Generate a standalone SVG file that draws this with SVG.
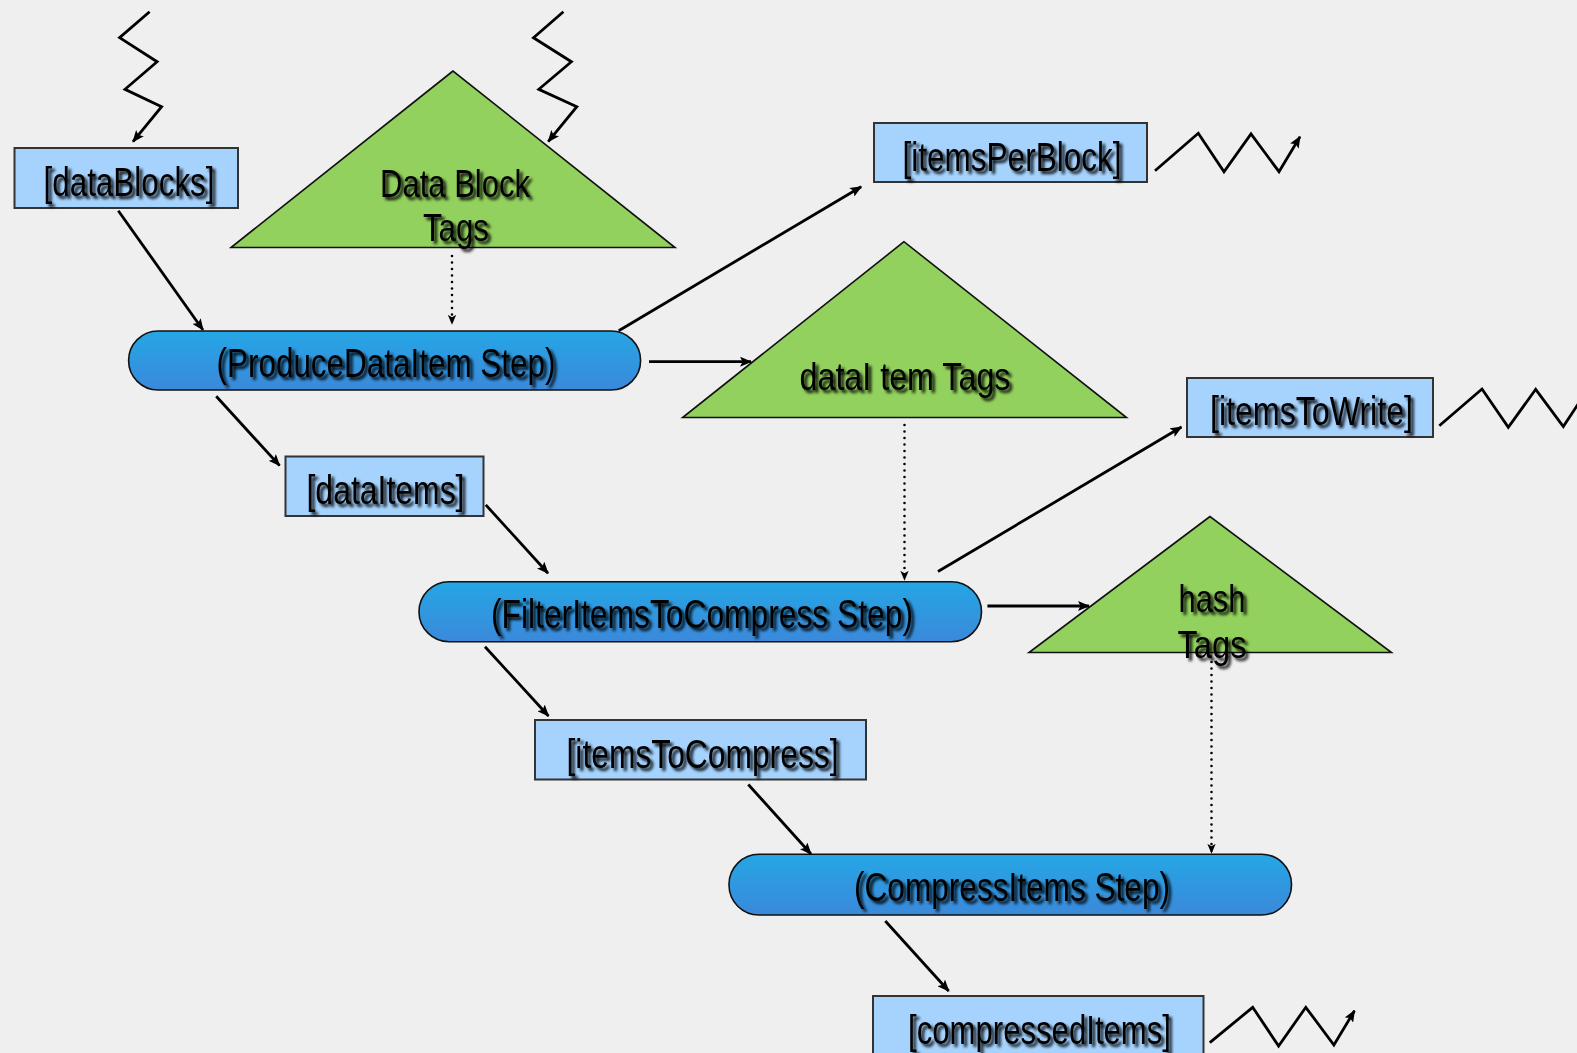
<svg xmlns="http://www.w3.org/2000/svg" width="1577" height="1053" viewBox="0 0 1577 1053">
  <defs>
    <style>
      .bg { fill: #efefef; }
      .item rect { fill: #a5d3fe; stroke: #333333; stroke-width: 2; }
      .tag polygon { fill: #92d15d; stroke: #111111; stroke-width: 1.6; stroke-linejoin: miter; }
      .step rect { fill: url(#stepFill); stroke: #111111; stroke-width: 1.6; }
      text { font-family: "Liberation Sans Narrow", "Liberation Sans", Arial, sans-serif; font-size: 40px; fill: #000000; text-anchor: middle; filter: url(#textShadow); }
      .tag text { font-size: 38px; }
      .wire { fill: none; stroke: #000000; stroke-width: 2.8; stroke-linejoin: miter; marker-end: url(#arrow); }
      .dots { fill: none; stroke: #000000; stroke-width: 2.6; stroke-linecap: round; stroke-dasharray: 0 6.5; marker-end: url(#arrowSmall); }
    </style>
    <linearGradient id="stepFill" x1="0" y1="0" x2="0" y2="1">
      <stop offset="0" stop-color="#25a6e5"/>
      <stop offset="1" stop-color="#3b89da"/>
    </linearGradient>
    <filter id="textShadow" x="-10%" y="-30%" width="125%" height="170%">
      <feGaussianBlur in="SourceAlpha" stdDeviation="1.4" result="blur"/>
      <feOffset in="blur" dx="3" dy="3" result="off"/>
      <feComponentTransfer in="off" result="shadow">
        <feFuncA type="linear" slope="0.95"/>
      </feComponentTransfer>
      <feMerge>
        <feMergeNode in="shadow"/>
        <feMergeNode in="SourceGraphic"/>
      </feMerge>
    </filter>
    <marker id="arrow" viewBox="0 0 12 10" refX="11" refY="5" markerWidth="12" markerHeight="10" markerUnits="userSpaceOnUse" orient="auto">
      <path d="M0,0 L12,5 L0,10 L2.5,5 z" fill="#000000"/>
    </marker>
    <marker id="arrowSmall" viewBox="0 0 12 10" refX="11" refY="5" markerWidth="10" markerHeight="9" markerUnits="userSpaceOnUse" orient="auto">
      <path d="M0,0 L12,5 L0,10 L3,5 z" fill="#000000"/>
    </marker>
  </defs>

  <rect class="bg" x="0" y="0" width="1577" height="1053"/>

  <!-- tag collections -->
  <g id="dataBlockTags" class="tag">
    <polygon points="453,71 231,247.5 675,247.5"/>
    <text x="455" y="197" textLength="150" lengthAdjust="spacingAndGlyphs">Data Block</text>
    <text x="456" y="241" textLength="66" lengthAdjust="spacingAndGlyphs">Tags</text>
  </g>
  <g id="dataItemTags" class="tag">
    <polygon points="904,241.7 682.6,417.5 1126.5,417.5"/>
    <text x="905" y="390" textLength="211" lengthAdjust="spacingAndGlyphs">dataI tem Tags</text>
  </g>
  <g id="hashTags" class="tag">
    <polygon points="1210,516.5 1029,652.5 1391.5,652.5"/>
    <text x="1212" y="612" textLength="67" lengthAdjust="spacingAndGlyphs">hash</text>
    <text x="1212" y="658" textLength="69" lengthAdjust="spacingAndGlyphs">Tags</text>
  </g>

  <!-- item collections -->
  <g id="dataBlocks" class="item">
    <rect x="14.5" y="148" width="223.5" height="60"/>
    <text x="129" y="196" textLength="171" lengthAdjust="spacingAndGlyphs">[dataBlocks]</text>
  </g>
  <g id="itemsPerBlock" class="item">
    <rect x="874" y="123" width="273" height="59"/>
    <text x="1012" y="171" textLength="219" lengthAdjust="spacingAndGlyphs">[itemsPerBlock]</text>
  </g>
  <g id="itemsToWrite" class="item">
    <rect x="1187" y="378" width="246" height="59"/>
    <text x="1311.5" y="425" textLength="203" lengthAdjust="spacingAndGlyphs">[itemsToWrite]</text>
  </g>
  <g id="dataItems" class="item">
    <rect x="285.5" y="456.5" width="198" height="59.5"/>
    <text x="385.5" y="504" textLength="158" lengthAdjust="spacingAndGlyphs">[dataItems]</text>
  </g>
  <g id="itemsToCompress" class="item">
    <rect x="535" y="720" width="331" height="59.5"/>
    <text x="702.5" y="767.5" textLength="272" lengthAdjust="spacingAndGlyphs">[itemsToCompress]</text>
  </g>
  <g id="compressedItems" class="item">
    <rect x="873" y="996" width="330.5" height="70"/>
    <text x="1039.5" y="1044" textLength="263" lengthAdjust="spacingAndGlyphs">[compressedItems]</text>
  </g>

  <!-- step collections -->
  <g id="produceDataItemStep" class="step">
    <rect x="128.6" y="331" width="512" height="59" rx="29.5" ry="29.5"/>
    <text x="386" y="377" textLength="339" lengthAdjust="spacingAndGlyphs">(ProduceDataItem Step)</text>
  </g>
  <g id="filterItemsToCompressStep" class="step">
    <rect x="419" y="581.7" width="562.5" height="60" rx="30" ry="30"/>
    <text x="702" y="628" textLength="422" lengthAdjust="spacingAndGlyphs">(FilterItemsToCompress Step)</text>
  </g>
  <g id="compressItemsStep" class="step">
    <rect x="729" y="854.3" width="562.5" height="60.7" rx="30" ry="30"/>
    <text x="1012" y="901" textLength="316" lengthAdjust="spacingAndGlyphs">(CompressItems Step)</text>
  </g>

  <!-- connectors -->
  <g id="connectors">
    <!-- environment inputs -->
    <polyline class="wire" points="149.6,11.7 119.6,37.7 157.1,61.7 125,89.3 161.6,106.7 133,141.7"/>
    <polyline class="wire" points="563.4,11.7 533.5,37.7 571.4,61.7 538.8,89.3 576.8,106.7 548.2,141.7"/>
    <!-- environment outputs -->
    <polyline class="wire" points="1155,170.7 1198.3,133.3 1224,171.7 1251,134 1279,171.7 1300,136.7"/>
    <polyline class="wire" points="1439.3,425.7 1482,389 1508.3,427.3 1535.7,389.3 1563.3,426.5 1600,371"/>
    <polyline class="wire" points="1209.8,1042.7 1252.7,1007.3 1278.6,1046 1305.8,1007.3 1333.9,1045 1354.5,1010.7"/>

    <!-- data flow -->
    <line class="wire" x1="118.3" y1="210.7" x2="203" y2="330"/>
    <line class="wire" x1="618.7" y1="330.7" x2="861.2" y2="186.7"/>
    <line class="wire" x1="649" y1="361.7" x2="751" y2="361.7"/>
    <line class="wire" x1="216.2" y1="396.3" x2="279.6" y2="465.6"/>
    <line class="wire" x1="485.8" y1="504.9" x2="548" y2="573.2"/>
    <line class="wire" x1="938" y1="571.5" x2="1181.5" y2="427"/>
    <line class="wire" x1="987.4" y1="606" x2="1089" y2="606"/>
    <line class="wire" x1="485" y1="646.7" x2="548.5" y2="716"/>
    <line class="wire" x1="748.3" y1="784.5" x2="811" y2="854"/>
    <line class="wire" x1="885.3" y1="921" x2="948.7" y2="991"/>

    <!-- tag prescriptions -->
    <line class="dots" x1="452" y1="256" x2="452" y2="324"/>
    <line class="dots" x1="904.5" y1="425" x2="904.5" y2="580"/>
    <line class="dots" x1="1211.5" y1="662" x2="1211.5" y2="853"/>
  </g>
</svg>
